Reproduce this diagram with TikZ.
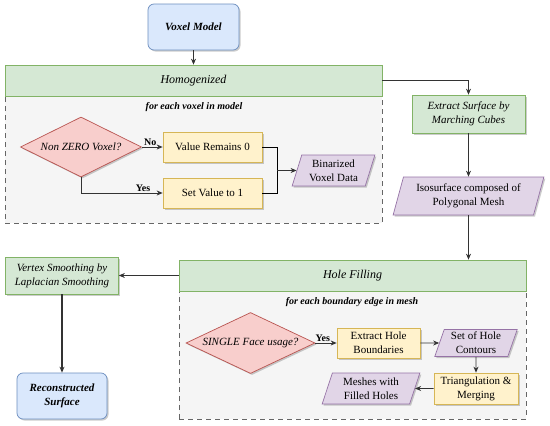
\documentclass[tikz,border=0pt]{standalone}
\usepackage{fontspec}
\setmainfont{Liberation Serif}
\usetikzlibrary{shapes.geometric,arrows.meta,shadows}
\definecolor{bluefill}{HTML}{DAE8FC}\definecolor{blueline}{HTML}{6C8EBF}
\definecolor{grnfill}{HTML}{D5E8D4}\definecolor{grnline}{HTML}{82B366}
\definecolor{redfill}{HTML}{F8CECC}\definecolor{redline}{HTML}{B85450}
\definecolor{yelfill}{HTML}{FFF2CC}\definecolor{yelline}{HTML}{D6B656}
\definecolor{purfill}{HTML}{E1D5E7}\definecolor{purline}{HTML}{9673A6}
\definecolor{lanefill}{HTML}{F5F5F5}\definecolor{laneline}{HTML}{666666}

\begin{document}
\begin{tikzpicture}[x=1pt,y=-1pt,line width=0.7pt,
  font=\fontsize{11}{14}\selectfont,
  every node/.style={align=center,inner sep=1pt},
  shd/.style={drop shadow={shadow xshift=1.5pt,shadow yshift=-1.5pt,opacity=0.2,fill=black}},
  term/.style={shd,draw=blueline,fill=bluefill,rounded corners=6pt,font=\fontsize{11}{14}\selectfont\bfseries\itshape},
  proc/.style={shd,draw=yelline,fill=yelfill},
  task/.style={shd,draw=grnline,fill=grnfill,font=\fontsize{11}{14}\selectfont\itshape},
  data/.style={shd,trapezium,trapezium left angle=72,trapezium right angle=108,trapezium stretches=true,draw=purline,fill=purfill},
  decide/.style={shd,diamond,aspect=2,inner sep=0pt,draw=redline,fill=redfill,font=\fontsize{11}{14}\selectfont\itshape},
  lanehead/.style={draw=grnline,fill=grnfill,font=\fontsize{12}{14}\selectfont\itshape},
  lanebody/.style={draw=laneline,dash pattern=on 5pt off 4pt,fill=lanefill},
  loop/.style={font=\fontsize{10}{12}\selectfont\bfseries\itshape},
  lbl/.style={font=\fontsize{10}{12}\selectfont\bfseries},
  arr/.style={-{Stealth[length=6pt,width=5pt]},draw=black!80}]
  \useasboundingbox (0,0) rectangle (550,426);
  % homogenize lane
  \node[lanebody,minimum width=377pt,minimum height=127pt] (hombody) at (193.5,159.5) {};
  \node[lanehead,minimum width=377pt,minimum height=31pt] (homhead) at (193.5,80.5) {Homogenized};
  \node[loop] (homloop) at (194,107) {for each voxel in model};
  \node[term,minimum width=91pt,minimum height=46pt] (voxel) at (193.5,27) {Voxel Model};
  \node[decide,minimum width=121pt,minimum height=60pt] (nonzero) at (81,147) {Non ZERO Voxel?};
  \node[proc,minimum width=99pt,minimum height=30pt] (remains) at (212.5,147) {Value Remains 0};
  \node[proc,minimum width=99pt,minimum height=30pt] (setone) at (212.5,193) {Set Value to 1};
  \node[data,minimum width=83pt,minimum height=31pt] (binarized) at (333.5,170.5) {Binarized\\Voxel Data};
  \coordinate (join) at (277,170.5);
  \node[task,minimum width=113pt,minimum height=38pt] (extract) at (468.5,114) {Extract Surface by\\Marching Cubes};
  \node[data,minimum width=151pt,minimum height=38pt] (iso) at (468.5,196) {Isosurface composed of\\Polygonal Mesh};
  % hole filling lane
  \node[lanebody,minimum width=347pt,minimum height=128pt] (holebody) at (352.5,355) {};
  \node[lanehead,minimum width=347pt,minimum height=31pt] (holehead) at (352.5,275.5) {Hole Filling};
  \node[loop] (holeloop) at (352,302) {for each boundary edge in mesh};
  \node[decide,minimum width=129pt,minimum height=61pt] (single) at (250.5,343) {SINGLE Face usage?};
  \node[proc,minimum width=83pt,minimum height=30pt] (bounds) at (378.5,343) {Extract Hole\\Boundaries};
  \node[data,minimum width=83pt,minimum height=27pt] (contours) at (476,343) {Set of Hole\\Contours};
  \node[proc,minimum width=84pt,minimum height=31pt] (triang) at (476,388.5) {Triangulation \&\\Merging};
  \node[data,minimum width=98pt,minimum height=31pt] (meshes) at (371,388.5) {Meshes with\\Filled Holes};
  \node[task,minimum width=113pt,minimum height=37pt] (vertex) at (62,275.5) {Vertex Smoothing by\\Laplacian Smoothing};
  \node[term,minimum width=90pt,minimum height=46pt] (recon) at (62,396) {Reconstructed\\Surface};
  % connectors
  \draw[arr] (voxel) -- (homhead);
  \draw[arr] (homhead.east) -| (extract.north);
  \draw[arr] (nonzero.east) -- node[lbl,above,pos=0.4]{No} (remains.west);
  \draw[arr] (nonzero.south) |- node[lbl,above,pos=0.88]{Yes} (setone.west);
  \draw (remains.east) -| (join); \draw (setone.east) -| (join);
  \draw[arr] (join) -- (binarized);
  \draw[arr] (extract) -- (iso);
  \draw[arr] (iso.south) -- (iso.south |- holehead.north);
  \draw[arr] (holehead.west) -- (vertex.east);
  \draw[arr,line width=1.2pt] (vertex) -- (recon);
  \draw[arr] (single.east) -- node[lbl,above,pos=0.35]{Yes} (bounds.west);
  \draw[arr] (bounds) -- (contours);
  \draw[arr] (contours) -- (triang);
  \draw[arr] (triang) -- (meshes);
\end{tikzpicture}
\end{document}
